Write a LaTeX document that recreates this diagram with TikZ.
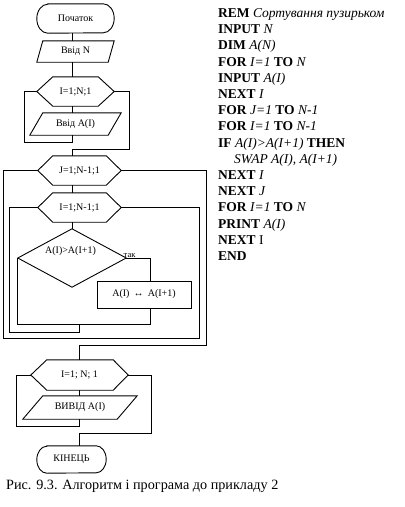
\documentclass[tikz,border=0pt]{standalone}
\usepackage{fontspec}
\setmainfont{Liberation Serif}
\usetikzlibrary{calc}
\newcommand\kw[1]{\textbf{#1}}
\newcommand\vr[1]{\textit{#1}}
\begin{document}
\begin{tikzpicture}[x=1pt,y=-1pt,
  ln/.style={line width=0.9pt},
  shp/.style={inner sep=0pt, font=\fontsize{10}{12}\selectfont},
  prog/.style={anchor=base west, inner sep=0pt, font=\fontsize{13.5}{16}\selectfont},
  capt/.style={anchor=west, inner sep=0pt, font=\fontsize{14.2}{16}\selectfont}]
\useasboundingbox (0,0) rectangle (405,507);
\coordinate (ax) at (72,0);
\coordinate (bx) at (79,0);
\coordinate (yx) at (150,0);

% start terminator
\node[shp, minimum width=77pt, minimum height=29pt] (start) at (75.5,18.5) {Початок};
\draw[ln] ([xshift=11pt]start.north west) -- ([xshift=-11pt]start.north east)
  arc[start angle=90,end angle=-90,x radius=11pt,y radius=14.5pt]
  -- ([xshift=11pt]start.south west)
  arc[start angle=270,end angle=90,x radius=11pt,y radius=14.5pt] -- cycle;

% input N
\node[shp, minimum width=77pt, minimum height=21pt] (inN) at (75.5,51.5) {Ввід N};
\draw[ln] ([xshift=6pt]inN.north west) -- (inN.north east) -- ([xshift=-6pt]inN.south east) -- (inN.south west) -- cycle;

% loop 1
\node[shp, minimum width=77pt, minimum height=29pt] (h1) at (75.5,91.5) {I=1;N;1};
\draw[ln] (h1.west) -- ([xshift=16pt]h1.north west) -- ([xshift=-16pt]h1.north east) -- (h1.east)
  -- ([xshift=-16pt]h1.south east) -- ([xshift=16pt]h1.south west) -- cycle;

\node[shp, minimum width=91pt, minimum height=22pt] (inA) at (75.5,124) {Ввід A(I)};
\draw[ln] ([xshift=13pt]inA.north west) -- (inA.north east) -- ([xshift=-13pt]inA.south east) -- (inA.south west) -- cycle;

% loop J and I
\node[shp, minimum width=83pt, minimum height=29pt] (hJ) at (79.5,170.5) {J=1;N-1;1};
\draw[ln] (hJ.west) -- ([xshift=15pt]hJ.north west) -- ([xshift=-15pt]hJ.north east) -- (hJ.east)
  -- ([xshift=-15pt]hJ.south east) -- ([xshift=15pt]hJ.south west) -- cycle;

\node[shp, minimum width=83pt, minimum height=29pt] (hI) at (79.5,207.5) {I=1;N-1;1};
\draw[ln] (hI.west) -- ([xshift=15pt]hI.north west) -- ([xshift=-15pt]hI.north east) -- (hI.east)
  -- ([xshift=-15pt]hI.south east) -- ([xshift=15pt]hI.south west) -- cycle;

\node[inner sep=0pt, minimum width=108pt, minimum height=58pt] (dia) at (72,258) {};
\draw[ln] (dia.north) -- (dia.east) -- (dia.south) -- (dia.west) -- cycle;
\node[shp] (cond) at (70.5,251.5) {A(I)>A(I+1)};
\node[inner sep=0.3pt, anchor=south west, font=\fontsize{8.5}{10}\selectfont] (yes) at ([xshift=-3pt]dia.east) {так};

\node[draw, ln, shp, minimum width=94pt, minimum height=27pt] (box) at (144,294.5) {A(I)\, ↔\, A(I+1)};

% output loop
\node[shp, minimum width=97pt, minimum height=30pt] (h2) at (79.5,375) {I=1; N; 1};
\draw[ln] (h2.west) -- ([xshift=16pt]h2.north west) -- ([xshift=-15pt]h2.north east) -- (h2.east)
  -- ([xshift=-15pt]h2.south east) -- ([xshift=16pt]h2.south west) -- cycle;

\node[shp, minimum width=114pt, minimum height=23pt] (outA) at (80,407.5) {ВИВІД A(I)};
\draw[ln] ([xshift=20pt]outA.north west) -- (outA.north east) -- ([xshift=-20pt]outA.south east) -- (outA.south west) -- cycle;

% end terminator
\node[shp, minimum width=69pt, minimum height=27pt] (fin) at (71.5,459.5) {КІНЕЦЬ};
\draw[ln] ([xshift=10pt]fin.north west) -- ([xshift=-10pt]fin.north east)
  arc[start angle=90,end angle=-90,x radius=10pt,y radius=13.5pt]
  -- ([xshift=10pt]fin.south west)
  arc[start angle=270,end angle=90,x radius=10pt,y radius=13.5pt] -- cycle;

% connectors
\draw[ln] (ax |- start.south) -- (ax |- inN.north);
\draw[ln] (ax |- inN.south) -- (ax |- h1.north);
\draw[ln] (ax |- h1.south) -- (ax |- inA.north);
\draw[ln] (h1.west) -- (24,91.5) -- (24,142) -- (72,142) -- (ax |- inA.south);
\draw[ln] (h1.east) -- (129,91.5) -- (129,149) -- (72,149) -- (ax |- hJ.north);
\draw[ln] (ax |- hJ.south) -- (ax |- hI.north);
\draw[ln] (hJ.west) -- (3,170.5) -- (3,338) -- (199,338) -- (199,207.5) -- (hI.east);
\draw[ln] (hI.west) -- (9,207.5) -- (9,332) -- (79,332) -- (79,324);
\draw[ln] (hJ.east) -- (206,170.5) -- (206,345) -- (79,345) -- (bx |- h2.north);
\draw[ln] (ax |- hI.south) -- (dia.north);
\draw[ln] (dia.east) -| (yx |- box.north);
\draw[ln] (yx |- box.south) |- (dia.west |- 0,324) -- (dia.west);
\draw[ln] (bx |- h2.south) -- (bx |- outA.north);
\draw[ln] (h2.west) -- (16,375) -- (16,426) -- (79,426) -- (bx |- outA.south);
\draw[ln] (h2.east) -- (151,375) -- (151,433) -- (79,433) -- (bx |- fin.north);

% caption
\node[capt] (cap) at (6,486) {Рис. 9.3. Алгоритм і програма до прикладу 2};

% program
\node[prog] (p1) at (218,17.5) {\kw{REM} \vr{Сортування пузирьком}};
\node[prog] (p2) at (218,33.7) {\kw{INPUT} \vr{N}};
\node[prog] (p3) at (218,49.9) {\kw{DIM} \vr{A(N)}};
\node[prog] (p4) at (218,66.1) {\kw{FOR} \vr{I=1} \kw{TO} \vr{N}};
\node[prog] (p5) at (218,82.3) {\kw{INPUT} \vr{A(I)}};
\node[prog] (p6) at (218,98.5) {\kw{NEXT} \vr{I}};
\node[prog] (p7) at (218,114.7) {\kw{FOR} \vr{J=1} \kw{TO} \vr{N-1}};
\node[prog] (p8) at (218,130.9) {\kw{FOR} \vr{I=1} \kw{TO} \vr{N-1}};
\node[prog] (p9) at (218,147.1) {\kw{IF} \vr{A(I)>A(I+1)} \kw{THEN}};
\node[prog] (p10) at (234,163.3) {\vr{SWAP A(I), A(I+1)}};
\node[prog] (p11) at (218,179.5) {\kw{NEXT} \vr{I}};
\node[prog] (p12) at (218,195.7) {\kw{NEXT} \vr{J}};
\node[prog] (p13) at (218,211.9) {\kw{FOR} \vr{I=1} \kw{TO} \vr{N}};
\node[prog] (p14) at (218,228.1) {\kw{PRINT} \vr{A(I)}};
\node[prog] (p15) at (218,244.3) {\kw{NEXT} I};
\node[prog] (p16) at (218,260.5) {\kw{END}};
\end{tikzpicture}
\end{document}
